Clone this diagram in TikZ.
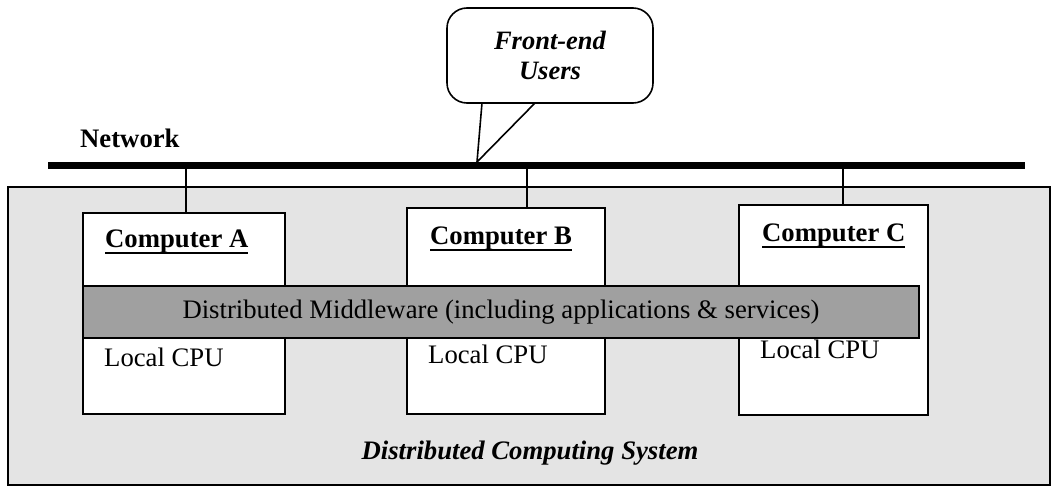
\documentclass[tikz,border=0pt]{standalone}
\usepackage{fontspec}
\setmainfont{Liberation Serif}
\definecolor{sysgray}{HTML}{E4E4E4}
\definecolor{mwgray}{HTML}{A0A0A0}
\newcommand{\cname}[1]{\setbox0\hbox{#1}\rlap{\copy0}\rule[-6.5pt]{\wd0}{1.8pt}}
\tikzset{
  computer/.style={draw, line width=1.6pt, fill=white, inner sep=0pt},
  tag/.style={anchor=base west, inner sep=0pt, font=\fontsize{26.7}{30}\selectfont},
  link/.style={line width=1.6pt},
}
\begin{document}
\begin{tikzpicture}[x=1pt, y=-1pt, font=\fontsize{26.7}{30}\selectfont]
	\useasboundingbox (0,0) rectangle (1052,487);
	\node[draw, link, fill=sysgray, minimum width=1042pt, minimum height=298pt, inner sep=0pt] (sys) at (529,336) {};
	\node[font=\fontsize{26.7}{30}\selectfont\bfseries\itshape] (dcs) at (530,453) {Distributed Computing System};

	\node[computer, minimum width=202pt, minimum height=201pt] (compA) at (184,313.5) {};
	\node[computer, minimum width=198pt, minimum height=206pt] (compB) at (506,311) {};
	\node[computer, minimum width=189pt, minimum height=210pt] (compC) at (833.5,310) {};

	\node[tag, font=\fontsize{26.7}{30}\selectfont\bfseries] (nameA) at (105,247) {\cname{Computer A}};
	\node[tag, font=\fontsize{26.7}{30}\selectfont\bfseries] (nameB) at (430,244) {\cname{Computer B}};
	\node[tag, font=\fontsize{26.7}{30}\selectfont\bfseries] (nameC) at (762,241) {\cname{Computer C}};
	\node[tag] (cpuA) at (104,366) {Local CPU};
	\node[tag] (cpuB) at (428,363) {Local CPU};
	\node[tag] (cpuC) at (760,358) {Local CPU};

	\node[draw, link, fill=mwgray, minimum width=836pt, minimum height=52pt, inner sep=0pt] (mw) at (501,312) {Distributed Middleware (including applications \& services)};

	% network bus
	\coordinate (busL) at (48,165);
	\coordinate (busR) at (1025,165);
	\draw[line width=7pt] (busL) -- (busR);
	\node[tag, font=\fontsize{26.7}{30}\selectfont\bfseries] (net) at (80,147) {Network};
	\coordinate (tapA) at (186,165);
	\coordinate (tapB) at (527,165);
	\coordinate (tapC) at (843,165);
	\draw[link] (tapA) -- (tapA |- compA.north);
	\draw[link] (tapB) -- (tapB |- compB.north);
	\draw[link] (tapC) -- (tapC |- compC.north);

	% callout
	\node[draw, link, fill=white, rounded corners=20pt, minimum width=206pt, minimum height=95pt, align=center, font=\fontsize{26.5}{30}\selectfont\bfseries\itshape] (users) at (550,55.5) {Front-end\\Users};
	\coordinate (tip) at (477,162);
	\coordinate (baseL) at (482,103);
	\coordinate (baseR) at (535,103);
	\fill[white] (tip) -- ([yshift=-2pt]baseL) -- ([yshift=-2pt]baseR) -- cycle;
	\draw[link, line join=round] (baseL) -- (tip) -- (baseR);
\end{tikzpicture}
\end{document}
